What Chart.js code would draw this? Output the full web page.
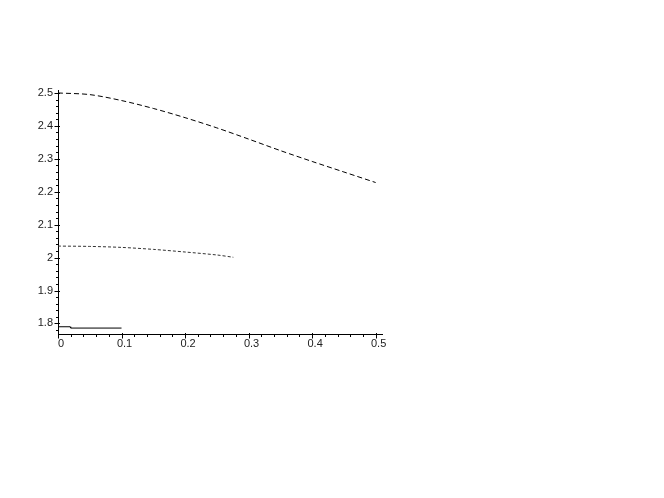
<!DOCTYPE html>
<html>
<head>
<meta charset="utf-8">
<script src="https://cdn.jsdelivr.net/npm/chart.js@4.4.0/dist/chart.umd.min.js"></script>
<style>
html,body{margin:0;padding:0;background:#fff;}
#wrap{width:664px;height:498px;position:relative;}
</style>
</head>
<body>
<div id="wrap"><canvas id="c" width="664" height="498"></canvas></div>
<script>
// Data
const dashedX = [0, 0.05, 0.1, 0.15, 0.2, 0.25, 0.3, 0.35, 0.4, 0.45, 0.5];
const dashedY = [2.5, 2.495, 2.477, 2.453, 2.425, 2.394, 2.36, 2.325, 2.292, 2.26, 2.228];
const dottedX = [0, 0.05, 0.1, 0.15, 0.2, 0.25, 0.276];
const dottedY = [2.035, 2.034, 2.031, 2.025, 2.017, 2.008, 2.001];
const solidX = [0, 0.019, 0.02, 0.1];
const solidY = [1.790, 1.790, 1.786, 1.786];
const xTickLabels = ["0", "0.1", "0.2", "0.3", "0.4", "0.5"];
const yTickLabels = ["1.8", "1.9", "2", "2.1", "2.2", "2.3", "2.4", "2.5"];

const xTickValues = xTickLabels.map(Number);
const yTickValues = yTickLabels.map(Number);

function pts(xs, ys) { return xs.map((x, i) => ({x: x, y: ys[i]})); }

const tickPlugin = {
  id: 'mapleTicks',
  afterDraw(chart) {
    const ctx = chart.ctx;
    const xs = chart.scales.x, ys = chart.scales.y;
    const ax = Math.round(xs.getPixelForValue(0)) + 0.5;
    const ay = Math.round(ys.getPixelForValue(ys.min)) + 0.5;
    ctx.save();
    ctx.strokeStyle = '#000';
    ctx.lineWidth = 1;
    ctx.beginPath();
    for (let k = 89; k <= 125; k++) {
      const v = k / 50;
      const py = Math.round(ys.getPixelForValue(v)) + 0.5;
      const major = k % 5 === 0;
      ctx.moveTo(ax - (major ? 4 : 2.5), py);
      ctx.lineTo(ax + (major ? 1.5 : 0), py);
    }
    for (let k = 0; k <= 25; k++) {
      const v = k / 50;
      const px = Math.round(xs.getPixelForValue(v)) + 0.5;
      const major = k % 5 === 0;
      ctx.moveTo(px, ay - (major ? 1.5 : 0));
      ctx.lineTo(px, ay + (major ? 4 : 2.5));
    }
    ctx.stroke();
    ctx.restore();
  }
};

new Chart(document.getElementById('c'), {
  type: 'scatter',
  data: {
    datasets: [
      {data: pts(dashedX, dashedY), showLine: true, borderColor: '#000', borderWidth: 1, borderDash: [5, 3], pointRadius: 0, tension: 0.3},
      {data: pts(dottedX, dottedY), showLine: true, borderColor: '#333', borderWidth: 1, borderDash: [3, 2], pointRadius: 0, tension: 0.3},
      {data: pts(solidX, solidY), showLine: true, borderColor: '#000', borderWidth: 1, pointRadius: 0, tension: 0}
    ]
  },
  options: {
    responsive: false,
    animation: false,
    events: [],
    layout: {padding: {top: 90, right: 282, bottom: 0, left: 0}},
    plugins: {legend: {display: false}, tooltip: {enabled: false}},
    scales: {
      x: {
        type: 'linear', min: 0, max: 0.51,
        afterFit(s) { s.height = 164; },
        afterBuildTicks(s) { s.ticks = xTickValues.map(v => ({value: v})); },
        grid: {display: true, drawOnChartArea: false, drawTicks: false},
        border: {display: true, color: '#000', width: 1},
        ticks: {
          padding: 3, color: '#222', maxRotation: 0, labelOffset: 3,
          font: {family: 'Liberation Sans, Arial, sans-serif', size: 11},
          callback(v) { const i = xTickValues.indexOf(v); return i >= 0 ? xTickLabels[i] : ''; }
        }
      },
      y: {
        type: 'linear', min: 1.768, max: 2.509,
        afterFit(s) { s.width = 58; },
        afterBuildTicks(s) { s.ticks = yTickValues.map(v => ({value: v})); },
        grid: {display: true, drawOnChartArea: false, drawTicks: false},
        border: {display: true, color: '#000', width: 1},
        ticks: {
          padding: 5, color: '#222',
          font: {family: 'Liberation Sans, Arial, sans-serif', size: 11},
          callback(v) { const i = yTickValues.indexOf(v); return i >= 0 ? yTickLabels[i] : ''; }
        }
      }
    }
  },
  plugins: [tickPlugin]
});
</script>
</body>
</html>
